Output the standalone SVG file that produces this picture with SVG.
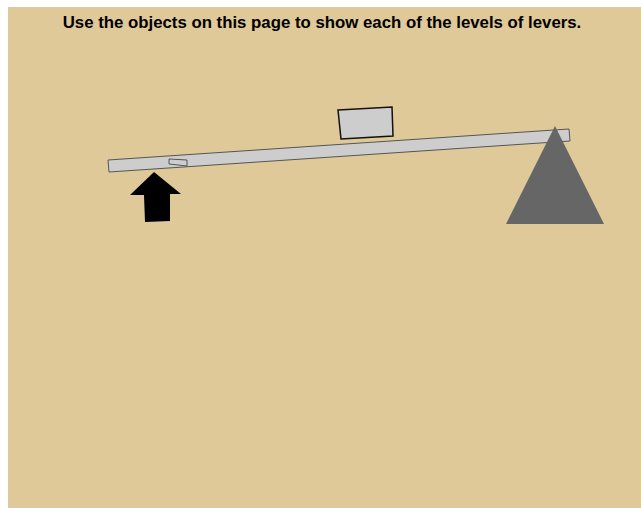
<svg xmlns="http://www.w3.org/2000/svg" width="641" height="508" viewBox="0 0 641 508">
<style>
.title{font-family:"Liberation Sans",Arial,sans-serif;font-weight:bold;font-size:16.8px;fill:#000}
.bar{fill:#cdcdcd;stroke:#555;stroke-width:1}
</style>
<rect x="0" y="0" width="641" height="508" fill="#fff"/>
<rect x="8" y="7" width="633" height="501" fill="#dfc998"/>
<text class="title" x="322" y="28" text-anchor="middle">Use the objects on this page to show each of the levels of levers.</text>
<g id="lever">
<polygon class="bar" points="108,160 569,129 570,141 109,172"/>
<polygon class="bar" points="169,159 187,160 187,166 169,164"/>
</g>
<g id="load">
<polygon points="338,110 392,107 393,136 341,139" fill="#cdcdcd" stroke="#111" stroke-width="1.5"/>
</g>
<g id="fulcrum">
<polygon points="555,126 506,224 604,224" fill="#666"/>
</g>
<g id="effort">
<polygon points="154,172 181,194 170,194 170,221 145,222 144,195 130,195" fill="#000"/>
</g>
</svg>
